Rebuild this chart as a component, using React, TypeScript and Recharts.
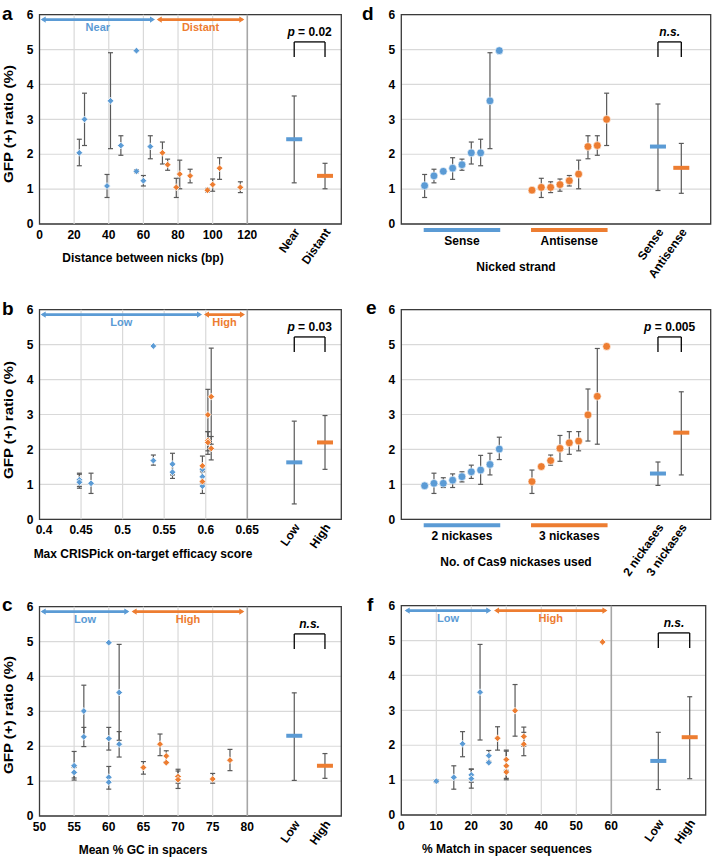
import React from "react";
import {
  CartesianGrid,
  ErrorBar,
  ReferenceArea,
  ReferenceDot,
  ReferenceLine,
  Scatter,
  ScatterChart,
  XAxis,
  YAxis,
} from "recharts";

const BLUE = "#5B9BD5";
const ORANGE = "#ED7D31";
const GREY = "#595959";
const GRID = "#D9D9D9";
const FONT = '"Liberation Sans", Arial, Helvetica, sans-serif';

// [x, mean, low, high]
type P = [number, number, number | null, number | null];
// [mean, low, high]
type V = [number, number | null, number | null];

// a - distance between nicks (bp)
const distNear: P[] = [
  [23, 2.04, 1.67, 2.43],
  [26, 3.0, 2.25, 3.75],
  [39, 1.09, 0.76, 1.42],
  [41, 3.53, 2.16, 4.91],
  [47, 2.25, 1.97, 2.53],
  [56, 4.97, null, null],
  [56, 1.51, 1.47, 1.56],
  [60, 1.24, 1.09, 1.39],
  [64, 2.22, 1.87, 2.53],
];
const distFar: P[] = [
  [71, 2.04, 1.72, 2.35],
  [74, 1.7, 1.54, 1.86],
  [79, 1.05, 0.76, 1.31],
  [81, 1.43, 1.01, 1.83],
  [87, 1.38, 1.18, 1.57],
  [97, 0.97, 0.92, 1.02],
  [100, 1.13, 0.94, 1.29],
  [104, 1.6, 1.28, 1.9],
  [116, 1.05, 0.9, 1.21],
];
const distSummary: V[] = [
  [2.43, 1.18, 3.67],
  [1.38, 1.01, 1.74],
];
const distGroups = ["Near", "Distant"];
const distTicks = [0, 20, 40, 60, 80, 100, 120];

// b - max CRISPick on-target efficacy score
const effLow: P[] = [
  [0.448, 1.13, 0.94, 1.29],
  [0.448, 1.06, 0.89, 1.32],
  [0.462, 1.03, 0.74, 1.32],
  [0.537, 4.96, null, null],
  [0.537, 1.68, 1.55, 1.84],
  [0.56, 1.58, 1.27, 1.89],
  [0.56, 1.35, 1.17, 1.55],
  [0.596, 1.43, 1.01, 1.81],
  [0.596, 1.22, 1.07, 1.36],
  [0.596, 0.95, null, null],
];
const effHigh: P[] = [
  [0.596, 1.53, null, null],
  [0.596, 1.08, 0.74, 1.41],
  [0.6026, 2.99, 2.24, 3.72],
  [0.6026, 2.25, 1.96, 2.51],
  [0.6026, 2.2, 1.86, 2.51],
  [0.6066, 3.51, 2.15, 4.9],
  [0.6066, 2.03, 1.7, 2.37],
];
const effSummary: V[] = [
  [1.63, 0.44, 2.81],
  [2.2, 1.43, 2.97],
];
const effTicks = [0.4, 0.45, 0.5, 0.55, 0.6, 0.65];

// c - mean % GC in spacers
const gcLow: P[] = [
  [55, 1.44, 1.03, 1.85],
  [55, 1.25, 1.09, 1.39],
  [56.4, 3.01, 2.26, 3.75],
  [56.4, 2.27, 1.99, 2.54],
  [60, 4.97, null, null],
  [60, 2.22, 1.89, 2.54],
  [60, 1.11, 0.77, 1.42],
  [60, 0.97, null, null],
  [61.5, 3.54, 2.17, 4.92],
  [61.5, 2.06, 1.69, 2.42],
];
const gcHigh: P[] = [
  [65, 1.39, 1.2, 1.56],
  [67.4, 2.06, 1.73, 2.35],
  [68.3, 1.72, 1.56, 1.87],
  [68.3, 1.53, null, null],
  [70, 1.13, 0.94, 1.29],
  [70, 1.04, 0.79, 1.34],
  [75, 1.06, 0.94, 1.22],
  [77.5, 1.6, 1.3, 1.91],
];
const gcSummary: V[] = [
  [2.3, 1.02, 3.53],
  [1.44, 1.08, 1.79],
];
const gcTicks = [50, 55, 60, 65, 70, 75, 80];

// f - % match in spacer sequences
const matchLow: P[] = [
  [10, 0.97, 0.93, 1.01],
  [15, 1.08, 0.74, 1.41],
  [17.5, 2.04, 1.67, 2.39],
  [20, 1.15, 0.94, 1.32],
  [20, 1.04, 0.77, 1.31],
  [22.5, 3.52, 2.15, 4.89],
  [25, 1.7, 1.54, 1.85],
  [25, 1.5, null, null],
];
const matchHigh: P[] = [
  [27.5, 2.2, 1.86, 2.53],
  [30, 1.59, 1.28, 1.86],
  [30, 1.41, 1.01, 1.83],
  [30, 1.23, 1.05, 1.39],
  [32.5, 2.99, 2.26, 3.74],
  [35, 2.25, 1.97, 2.52],
  [35, 2.03, 1.7, 2.37],
  [57.5, 4.96, null, null],
];
const matchSummary: V[] = [
  [1.55, 0.73, 2.37],
  [2.23, 1.04, 3.39],
];
const matchTicks = [0, 10, 20, 30, 40, 50, 60];

const levelGroups = ["Low", "High"];

// d - nicked strand (sorted)
const strandSense: V[] = [
  [1.1, 0.76, 1.42],
  [1.38, 1.18, 1.57],
  [1.51, null, null],
  [1.6, 1.28, 1.9],
  [1.7, 1.54, 1.86],
  [2.04, 1.72, 2.35],
  [2.04, 1.67, 2.43],
  [3.53, 2.16, 4.91],
  [4.97, null, null],
];
const strandAnti: V[] = [
  [0.97, null, null],
  [1.05, 0.76, 1.31],
  [1.05, 0.9, 1.21],
  [1.13, 0.94, 1.29],
  [1.24, 1.09, 1.39],
  [1.43, 1.01, 1.83],
  [2.22, 1.87, 2.53],
  [2.25, 1.97, 2.53],
  [3.0, 2.25, 3.75],
];
const strandSummary: V[] = [
  [2.22, 0.96, 3.44],
  [1.61, 0.88, 2.31],
];
const strandGroups = ["Sense", "Antisense"];

// e - number of Cas9 nickases (sorted)
const nickTwo: V[] = [
  [0.96, null, null],
  [1.03, 0.74, 1.32],
  [1.03, 0.91, 1.19],
  [1.12, 0.91, 1.3],
  [1.22, 1.07, 1.36],
  [1.36, 1.17, 1.55],
  [1.41, 1.0, 1.83],
  [1.57, 1.27, 1.89],
  [2.01, 1.71, 2.35],
];
const nickThree: V[] = [
  [1.08, 0.74, 1.41],
  [1.51, null, null],
  [1.68, 1.55, 1.84],
  [2.03, 1.66, 2.4],
  [2.19, 1.86, 2.51],
  [2.24, 1.96, 2.51],
  [2.99, 2.24, 3.73],
  [3.52, 2.15, 4.89],
  [4.95, null, null],
];
const nickSummary: V[] = [
  [1.31, 0.97, 1.64],
  [2.48, 1.27, 3.65],
];
const nickGroups = ["2 nickases", "3 nickases"];

const yTicks = [0, 1, 2, 3, 4, 5, 6];

type Row = { x: number; y: number; err: number[] | null };
const toRow = (x: number, y: number, lo: number | null, hi: number | null): Row => ({
  x,
  y,
  err: lo == null || hi == null ? null : [y - lo, hi - y],
});
const rows = (pts: P[]) => pts.map(([x, y, lo, hi]) => toRow(x, y, lo, hi));
const seqRows = (vals: V[], start: number) => vals.map(([y, lo, hi], i) => toRow(start + i, y, lo, hi));

const diamond = (fill: string) => (p: any) => {
  const s = 3.4;
  return (
    <polygon
      points={`${p.cx},${p.cy - s} ${p.cx + s},${p.cy} ${p.cx},${p.cy + s} ${p.cx - s},${p.cy}`}
      fill={fill}
      stroke="#fff"
      strokeWidth={0.8}
    />
  );
};
const circle = (fill: string) => (p: any) => (
  <circle cx={p.cx} cy={p.cy} r={3.9} fill={fill} stroke="#fff" strokeWidth={0.6} />
);
const meanBar = (fill: string) => (p: any) => <rect x={p.cx - 8} y={p.cy - 2} width={16} height={4} fill={fill} />;

const arrow = (color: string) => (p: any) => {
  const { x1, y1, x2 } = p;
  const l = 5;
  const h = 3.2;
  return (
    <g>
      <line x1={x1 + 2} y1={y1} x2={x2 - 2} y2={y1} stroke={color} strokeWidth={2.6} />
      <polygon points={`${x1},${y1} ${x1 + l},${y1 - h} ${x1 + l},${y1 + h}`} fill={color} />
      <polygon points={`${x2},${y1} ${x2 - l},${y1 - h} ${x2 - l},${y1 + h}`} fill={color} />
    </g>
  );
};

const txt = (content: React.ReactNode, color: string, size = 12) => (p: any) => (
  <text
    x={p.cx}
    y={p.cy}
    textAnchor="middle"
    dominantBaseline="central"
    fill={color}
    fontFamily={FONT}
    fontSize={size}
    fontWeight={700}
  >
    {content}
  </text>
);

type Cfg = {
  left: number;
  top: number;
  w: number;
  h: number;
  pl: number;
  pr: number;
  pt: number;
  pb: number;
  domain: [number, number];
  ticks: number[];
  grid: number[];
  sep?: number;
  marker: "diamond" | "circle";
  blue: Row[];
  orange: Row[];
  sumX: [number, number];
  sum: V[];
  sumNames: string[];
  arrows?: { b: [number, number]; o: [number, number]; names: string[] };
  groups?: { b: [number, number]; o: [number, number]; names: string[] };
  stat: React.ReactNode;
};

const tickStyle = { fontFamily: FONT, fontSize: 12, fontWeight: 700, fill: "#000" };

function Panel({ c }: { c: Cfg }) {
  const sumRows = c.sum.map(([y, lo, hi], i) => toRow(c.sumX[i], y, lo, hi));
  const rot = new Map<number, string>(c.sumX.map((x, i) => [x, c.sumNames[i]]));
  const grp = new Map<number, string>();
  if (c.groups) {
    grp.set((c.groups.b[0] + c.groups.b[1]) / 2, c.groups.names[0]);
    grp.set((c.groups.o[0] + c.groups.o[1]) / 2, c.groups.names[1]);
  }
  const ticks = [...c.ticks, ...Array.from(grp.keys()), ...c.sumX];
  const Tick = (p: any) => {
    const v = p.payload.value;
    const { x, y } = p;
    if (rot.has(v)) {
      const ax = x + 6;
      const ay = y + 8;
      return (
        <text x={ax} y={ay} textAnchor="end" transform={`rotate(-55 ${ax} ${ay})`} {...tickStyle}>
          {rot.get(v)}
        </text>
      );
    }
    if (grp.has(v)) {
      return (
        <text x={x} y={y + 21} textAnchor="middle" {...tickStyle}>
          {grp.get(v)}
        </text>
      );
    }
    const s = String(v);
    // first long label is nudged inward, as in the source figure
    const shift = v === c.domain[0] && s.length > 2 ? 4.5 : 0;
    return (
      <text x={x + shift} y={y + 15} textAnchor="middle" {...tickStyle}>
        {s}
      </text>
    );
  };
  const [xl, xr] = c.sumX;
  const mk = c.marker === "circle" ? circle : diamond;
  const eb = <ErrorBar dataKey="err" direction="y" width={2.5} stroke={GREY} strokeWidth={1.2} isAnimationActive={false} />;

  return (
    <div style={{ position: "absolute", left: c.left, top: c.top }}>
      <ScatterChart
        width={c.w}
        height={c.h}
        margin={{ top: c.pt - c.top, right: c.left + c.w - c.pr, bottom: 0, left: 0 }}
      >
        <CartesianGrid vertical={false} stroke={GRID} strokeWidth={1.2} />
        <XAxis
          type="number"
          dataKey="x"
          domain={c.domain}
          allowDataOverflow
          ticks={ticks}
          interval={0}
          tick={Tick}
          tickLine={false}
          axisLine={false}
          tickSize={0}
          tickMargin={0}
          height={c.top + c.h - c.pb}
        />
        <YAxis
          type="number"
          dataKey="y"
          domain={[0, 6]}
          ticks={yTicks}
          interval={0}
          tick={tickStyle}
          tickLine={false}
          axisLine={false}
          tickSize={0}
          tickMargin={6}
          width={c.pl - c.left}
        />
        {c.grid.map((v) => (
          <ReferenceLine key={v} x={v} stroke={GRID} strokeWidth={1.2} />
        ))}
        {c.sep != null && <ReferenceLine x={c.sep} stroke="#A6A6A6" strokeWidth={1.6} />}
        {c.groups && (
          <ReferenceLine
            segment={[
              { x: c.groups.b[0], y: -0.17 },
              { x: c.groups.b[1], y: -0.17 },
            ]}
            stroke={BLUE}
            strokeWidth={4}
            ifOverflow="visible"
          />
        )}
        {c.groups && (
          <ReferenceLine
            segment={[
              { x: c.groups.o[0], y: -0.17 },
              { x: c.groups.o[1], y: -0.17 },
            ]}
            stroke={ORANGE}
            strokeWidth={4}
            ifOverflow="visible"
          />
        )}
        <Scatter data={c.blue} fill={BLUE} shape={mk(BLUE)} isAnimationActive={false}>
          {eb}
        </Scatter>
        <Scatter data={c.orange} fill={ORANGE} shape={mk(ORANGE)} isAnimationActive={false}>
          {eb}
        </Scatter>
        <Scatter data={[sumRows[0]]} fill={BLUE} shape={meanBar(BLUE)} isAnimationActive={false}>
          {eb}
        </Scatter>
        <Scatter data={[sumRows[1]]} fill={ORANGE} shape={meanBar(ORANGE)} isAnimationActive={false}>
          {eb}
        </Scatter>
        <ReferenceArea
          x1={c.domain[0]}
          x2={c.domain[1]}
          y1={0}
          y2={6}
          fill="none"
          fillOpacity={0}
          stroke="#3A3A3A"
          strokeWidth={1.3}
          ifOverflow="visible"
        />
        {c.arrows && (
          <ReferenceLine
            segment={[
              { x: c.arrows.b[0], y: 5.86 },
              { x: c.arrows.b[1], y: 5.86 },
            ]}
            shape={arrow(BLUE)}
          />
        )}
        {c.arrows && (
          <ReferenceLine
            segment={[
              { x: c.arrows.o[0], y: 5.86 },
              { x: c.arrows.o[1], y: 5.86 },
            ]}
            shape={arrow(ORANGE)}
          />
        )}
        {c.arrows && (
          <ReferenceDot
            x={(c.arrows.b[0] + c.arrows.b[1]) / 2}
            y={5.64}
            r={0}
            shape={txt(c.arrows.names[0], BLUE, 11)}
          />
        )}
        {c.arrows && (
          <ReferenceDot
            x={(c.arrows.o[0] + c.arrows.o[1]) / 2}
            y={5.64}
            r={0}
            shape={txt(c.arrows.names[1], ORANGE, 11)}
          />
        )}
        <ReferenceLine
          segment={[
            { x: xl, y: 4.79 },
            { x: xl, y: 5.22 },
          ]}
          stroke="#000"
          strokeWidth={1.3}
        />
        <ReferenceLine
          segment={[
            { x: xl, y: 5.22 },
            { x: xr, y: 5.22 },
          ]}
          stroke="#000"
          strokeWidth={1.3}
        />
        <ReferenceLine
          segment={[
            { x: xr, y: 5.22 },
            { x: xr, y: 4.79 },
          ]}
          stroke="#000"
          strokeWidth={1.3}
        />
        <ReferenceDot x={(xl + xr) / 2} y={5.5} r={0} shape={txt(c.stat, "#000", 12)} />
      </ScatterChart>
    </div>
  );
}

const pVal = (v: string) => (
  <>
    <tspan fontStyle="italic">p</tspan> = {v}
  </>
);
const ns = <tspan fontStyle="italic">n.s.</tspan>;

const panels: Cfg[] = [
  {
    left: 0, top: 0, w: 358, h: 290, pl: 39.5, pr: 341.3, pt: 14.7, pb: 224,
    domain: [0, 174.3], ticks: distTicks, grid: [20, 40, 60, 80, 100], sep: 120,
    marker: "diamond", blue: rows(distNear), orange: rows(distFar),
    sumX: [147.1, 164.9], sum: distSummary, sumNames: distGroups,
    arrows: { b: [0.7, 66.7], o: [67.7, 118.3], names: distGroups },
    stat: pVal("0.02"),
  },
  {
    left: 0, top: 290, w: 358, h: 290, pl: 39.5, pr: 341.3, pt: 309.7, pb: 519.3,
    domain: [0.4, 0.7631], ticks: effTicks, grid: [0.45, 0.5, 0.55, 0.6], sep: 0.65,
    marker: "diamond", blue: rows(effLow), orange: rows(effHigh),
    sumX: [0.7065, 0.7435], sum: effSummary, sumNames: levelGroups,
    arrows: { b: [0.4014, 0.5955], o: [0.5979, 0.6472], names: levelGroups },
    stat: pVal("0.03"),
  },
  {
    left: 0, top: 580, w: 358, h: 279, pl: 39.5, pr: 341.3, pt: 606.7, pb: 816,
    domain: [50, 93.57], ticks: gcTicks, grid: [55, 60, 65, 70, 75], sep: 80,
    marker: "diamond", blue: rows(gcLow), orange: rows(gcHigh),
    sumX: [86.78, 91.21], sum: gcSummary, sumNames: levelGroups,
    arrows: { b: [50.17, 62.97], o: [63.3, 79.57], names: levelGroups },
    stat: ns,
  },
  {
    left: 358, top: 0, w: 359, h: 290, pl: 401.3, pr: 710.7, pt: 14.7, pb: 224,
    domain: [0, 33.15], ticks: [], grid: [],
    marker: "circle", blue: seqRows(strandSense, 2.5), orange: seqRows(strandAnti, 14),
    sumX: [27.5, 30], sum: strandSummary, sumNames: strandGroups,
    groups: { b: [2.4, 10.6], o: [13.9, 22.1], names: strandGroups },
    stat: ns,
  },
  {
    left: 358, top: 290, w: 359, h: 300, pl: 401.3, pr: 710.7, pt: 309.7, pb: 519.3,
    domain: [0, 33.15], ticks: [], grid: [],
    marker: "circle", blue: seqRows(nickTwo, 2.5), orange: seqRows(nickThree, 14),
    sumX: [27.5, 30], sum: nickSummary, sumNames: nickGroups,
    groups: { b: [2.4, 10.6], o: [13.9, 22.1], names: nickGroups },
    stat: pVal("0.005"),
  },
  {
    left: 358, top: 580, w: 359, h: 279, pl: 401.3, pr: 705.7, pt: 605.7, pb: 815,
    domain: [0, 86.97], ticks: matchTicks, grid: [10, 20, 30, 40, 50], sep: 60,
    marker: "diamond", blue: rows(matchLow), orange: rows(matchHigh),
    sumX: [73.43, 82.4], sum: matchSummary, sumNames: levelGroups,
    arrows: { b: [0.97, 25.7], o: [26.5, 58.9], names: levelGroups },
    stat: ns,
  },
];

const letters: [string, number, number][] = [
  ["a", 2, 20],
  ["b", 2, 315],
  ["c", 2, 611],
  ["d", 362, 20],
  ["e", 366, 314],
  ["f", 367, 611],
];
const xTitles: [string, number, number][] = [
  ["Distance between nicks (bp)", 143, 258],
  ["Max CRISPick on-target efficacy score", 143, 554],
  ["Mean % GC in spacers", 143, 850],
  ["Nicked strand", 516, 267],
  ["No. of Cas9 nickases used", 516, 562],
  ["% Match in spacer sequences", 507, 849],
];
const yTitleCenters = [124, 420, 715];

export default function App() {
  return (
    <div style={{ position: "absolute", left: 0, top: 0, width: 717, height: 859, background: "#fff", fontFamily: FONT }}>
      {panels.map((c, i) => (
        <Panel key={i} c={c} />
      ))}
      <svg width={717} height={859} style={{ position: "absolute", left: 0, top: 0, pointerEvents: "none" }}>
        {letters.map(([t, x, y]) => (
          <text key={t} x={x} y={y} fontFamily={FONT} fontSize={19} fontWeight={700} fill="#000">
            {t}
          </text>
        ))}
        {xTitles.map(([t, x, y]) => (
          <text key={t} x={x} y={y} textAnchor="middle" dominantBaseline="central" fontFamily={FONT} fontSize={12} fontWeight={700} fill="#000">
            {t}
          </text>
        ))}
        {yTitleCenters.map((y) => (
          <text
            key={y}
            x={8}
            y={y}
            textAnchor="middle"
            dominantBaseline="central"
            transform={`rotate(-90 8 ${y})`}
            fontFamily={FONT}
            fontSize={13}
            fontWeight={700}
            fill="#000"
            textLength={118}
            lengthAdjust="spacingAndGlyphs"
          >
            GFP (+) ratio (%)
          </text>
        ))}
      </svg>
    </div>
  );
}
